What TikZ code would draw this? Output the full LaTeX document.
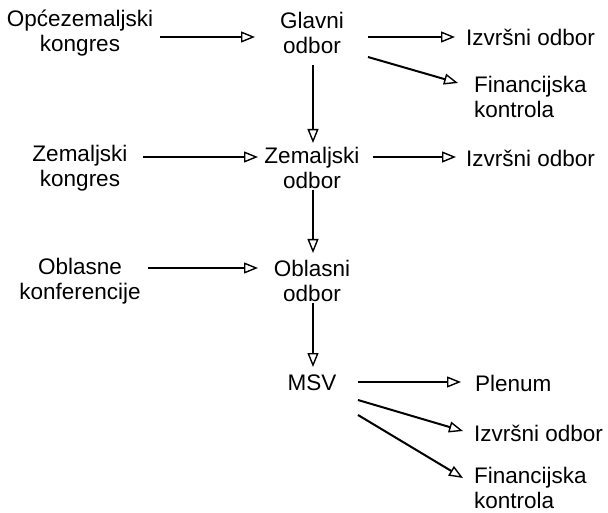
\documentclass[tikz,border=0pt]{standalone}
\usepackage{fontspec}
\setmainfont{Liberation Sans}
\usetikzlibrary{arrows.meta}
\begin{document}
\begin{tikzpicture}[x=1pt,y=-1pt,
  lbl/.style={inner sep=0pt,font=\fontsize{22.5}{25}\selectfont,align=center},
  lft/.style={inner sep=0pt,font=\fontsize{22.5}{25}\selectfont,align=left,anchor=west},
  arr/.style={line width=2pt,-{Triangle[open,length=14pt,width=11pt,line width=1.4pt]}}]
\useasboundingbox (0,0) rectangle (608,513);
% left column
\node[lbl] (op) at (80,33) {Općezemaljski\\kongres};
\node[lbl] (zemk) at (80,168) {Zemaljski\\kongres};
\node[lbl] (obk) at (80,281) {Oblasne\\konferencije};
% middle column
\node[lbl] (gl) at (312,33) {Glavni\\odbor};
\node[lbl] (zemo) at (312,168) {Zemaljski\\odbor};
\node[lbl] (obo) at (312,281) {Oblasni\\odbor};
\node[lbl] (msv) at (312,383) {MSV};
% right column
\node[lft] (izv1) at (466,37) {Izvršni odbor};
\node[lft] (fin1) at (474,97) {Financijska\\kontrola};
\node[lft] (izv2) at (466,158) {Izvršni odbor};
\node[lft] (plen) at (475,383) {Plenum};
\node[lft] (izv3) at (474,433) {Izvršni odbor};
\node[lft] (fin3) at (474,488) {Financijska\\kontrola};
% connectors
\draw[arr] ([shift={(80,4)}]op.center) -- ([shift={(-57,4)}]gl.center);
\draw[arr] ([shift={(56,4)}]gl.center) -- ([shift={(-11,0)}]izv1.west);
\draw[arr] ([shift={(56,24)}]gl.center) -- ([shift={(-16,-14)}]fin1.west);
\draw[arr] ([shift={(1,32)}]gl.center) -- ([shift={(1,-25)}]zemo.center);
\draw[arr] ([shift={(63,-11)}]zemk.center) -- ([shift={(-54,-11)}]zemo.center);
\draw[arr] ([shift={(61,-11)}]zemo.center) -- ([shift={(-10,-1)}]izv2.west);
\draw[arr] ([shift={(1,22)}]zemo.center) -- ([shift={(1,-28)}]obo.center);
\draw[arr] ([shift={(68,-13)}]obk.center) -- ([shift={(-54,-13)}]obo.center);
\draw[arr] ([shift={(1,22)}]obo.center) -- ([shift={(1,-16)}]msv.center);
\draw[arr] ([shift={(46,-1)}]msv.center) -- ([shift={(-14,-1)}]plen.west);
\draw[arr] ([shift={(46,17)}]msv.center) -- ([shift={(-11,-2)}]izv3.west);
\draw[arr] ([shift={(46,32)}]msv.center) -- ([shift={(-11,-10)}]fin3.west);
\end{tikzpicture}
\end{document}
